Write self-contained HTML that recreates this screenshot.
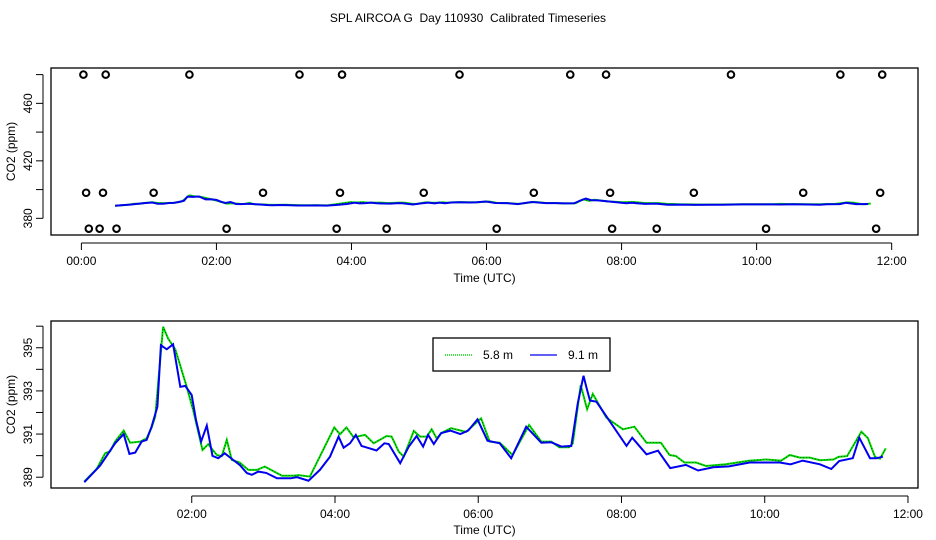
<!DOCTYPE html>
<html><head><meta charset="utf-8"><style>
html,body{margin:0;padding:0;background:#fff;}
svg{display:block;font-family:"Liberation Sans",sans-serif;}
</style></head><body>
<svg id="chart" width="936" height="540" viewBox="0 0 936 540" xmlns="http://www.w3.org/2000/svg">
<rect width="936" height="540" fill="#fff"/>
<text x="468" y="22" text-anchor="middle" font-size="12" xml:space="preserve" style="white-space:pre">SPL AIRCOA G  Day 110930  Calibrated Timeseries</text>
<g id="top"></g>
<g id="bot"></g>
</svg>
<script>
// Data (time in hours UTC, CO2 ppm)
const greenT = [0.5,0.67,0.79,0.86,0.93,1.05,1.14,1.28,1.37,1.44,1.49,1.60,1.67,1.77,1.93,2.02,2.15,2.23,2.35,2.42,2.49,2.56,2.67,2.79,2.91,3.02,3.26,3.42,3.49,3.65,3.99,4.07,4.16,4.26,4.42,4.54,4.72,4.79,4.89,4.96,5.10,5.19,5.28,5.35,5.42,5.49,5.62,5.83,6.04,6.16,6.30,6.48,6.71,6.88,7.02,7.13,7.27,7.32,7.43,7.52,7.60,7.79,8.02,8.18,8.35,8.55,8.67,8.76,8.88,9.04,9.18,9.46,9.79,10.02,10.23,10.35,10.49,10.63,10.77,10.96,11.03,11.15,11.35,11.44,11.54,11.61,11.69];
const greenV = [388.8,389.37,390.11,390.2,390.65,391.16,390.6,390.65,390.8,391.3,391.8,395.97,395.43,394.93,393.19,392.1,390.26,390.53,390.03,389.98,390.73,389.8,389.68,389.34,389.34,389.49,389.07,389.07,389.1,389.03,391.31,390.99,391.31,390.85,390.96,390.57,390.91,390.88,390.19,389.95,391.14,390.88,390.88,391.22,390.8,391.06,391.27,391.1,391.73,390.65,390.6,390.03,391.42,390.65,390.65,390.39,390.39,390.57,393.27,392.15,392.86,391.76,391.22,391.34,390.6,390.6,390.03,389.98,389.68,389.68,389.52,389.6,389.77,389.82,389.77,390.03,389.91,389.91,389.79,389.82,389.94,389.98,391.11,390.81,389.94,389.86,390.34];
const blueT = [0.5,0.72,0.93,1.05,1.13,1.21,1.30,1.37,1.44,1.52,1.57,1.65,1.74,1.84,1.91,2.0,2.06,2.13,2.21,2.29,2.37,2.46,2.58,2.67,2.77,2.84,2.93,3.04,3.19,3.38,3.47,3.63,3.79,3.93,4.05,4.12,4.21,4.29,4.37,4.47,4.58,4.69,4.75,4.91,5.03,5.14,5.23,5.30,5.38,5.48,5.61,5.75,5.86,5.99,6.13,6.30,6.46,6.67,6.88,7.02,7.16,7.30,7.39,7.47,7.52,7.56,7.65,8.07,8.15,8.35,8.51,8.68,8.90,9.07,9.28,9.5,9.79,10.21,10.36,10.53,10.77,10.93,11.04,11.23,11.32,11.47,11.56,11.65];
const blueV = [388.77,389.54,390.57,391.0,390.08,390.14,390.65,390.73,391.34,392.27,395.12,394.93,395.16,393.19,393.23,392.81,391.65,390.65,391.39,389.99,389.88,390.11,389.8,389.57,389.19,389.11,389.26,389.2,388.95,388.95,389.0,388.84,389.34,389.95,390.88,390.37,390.57,390.96,390.45,390.35,390.24,390.57,390.54,389.65,390.42,390.91,390.42,390.96,390.54,391.04,391.16,391.0,391.16,391.68,390.69,390.57,389.88,391.34,390.6,390.62,390.42,390.45,392.43,393.7,393.04,392.55,392.5,390.45,390.83,390.06,390.23,389.42,389.57,389.31,389.46,389.5,389.68,389.68,389.6,389.77,389.6,389.38,389.75,389.88,390.83,389.88,389.88,389.95];
// Flag circles in top panel
const flagHighT = [0.03,0.36,1.6,3.23,3.86,5.6,7.24,7.77,9.62,11.24,11.86];
const flagMidT = [0.07,0.32,1.07,2.69,3.83,5.07,6.70,7.83,9.07,10.69,11.83];
const flagLowT = [0.11,0.27,0.52,2.15,3.78,4.52,6.15,7.86,8.52,10.14,11.77];
const flagValues = [480,397.8,372.8];
const xTickHours = [0,2,4,6,8,10,12];
const xTickLabels = ["00:00","02:00","04:00","06:00","08:00","10:00","12:00"];
const topYTicks = [380,400,420,440,460,480];
const topYLabels = [380,420,460];
const botYTicks = [389,390,391,392,393,394,395,396];
const botYLabels = [389,391,393,395];

const NS="http://www.w3.org/2000/svg";
function mk(parent,tag,attrs,name,text){
  const e=document.createElementNS(NS,tag);
  for(const k in attrs) e.setAttribute(k,attrs[k]);
  
  
  if(text!==undefined) e.textContent=text;
  parent.appendChild(e); return e;
}
function panel(g,box,tmin,tmax,vmin,vmax,yTicks,yLabels,xTicks,xLabels,lblY,ttlY,topPanel){
  const X=t=>box.l+(t-tmin)/(tmax-tmin)*(box.r-box.l);
  const Y=v=>box.b-(v-vmin)/(vmax-vmin)*(box.b-box.t);
  mk(g,'rect',{x:box.l,y:box.t,width:box.r-box.l,height:box.b-box.t,fill:'none',stroke:'#000','stroke-width':1.3},'plot-frame');
  const xs=xTicks.filter(t=>X(t)>=box.l-1&&X(t)<=box.r+1);
  mk(g,'line',{x1:X(xs[0]),x2:X(xs[xs.length-1]),y1:box.b+8,y2:box.b+8,stroke:'#000'},'x-axis-line');
  xTicks.forEach((t,i)=>{
    if(X(t)<box.l-1||X(t)>box.r+1) return;
    mk(g,'line',{x1:X(t),x2:X(t),y1:box.b+8,y2:box.b+15,stroke:'#000'},'x-tick');
    mk(g,'text',{x:X(t),y:lblY,'text-anchor':'middle','font-size':12},'x-tick-label',xLabels[i]);
  });
  mk(g,'text',{x:(box.l+box.r)/2,y:ttlY,'text-anchor':'middle','font-size':12},'x-axis-title','Time (UTC)');
  mk(g,'line',{x1:box.l-8,x2:box.l-8,y1:Y(yTicks[0]),y2:Y(yTicks[yTicks.length-1]),stroke:'#000'},'y-axis-line');
  yTicks.forEach(v=>mk(g,'line',{x1:box.l-15,x2:box.l-8,y1:Y(v),y2:Y(v),stroke:'#000'},'y-tick'));
  yLabels.forEach(v=>mk(g,'text',{x:0,y:0,'text-anchor':'middle','font-size':12,transform:`translate(32,${Y(v)}) rotate(-90)`},'y-tick-label',String(v)));
  mk(g,'text',{x:0,y:0,'text-anchor':'middle','font-size':12,transform:`translate(15,${(box.t+box.b)/2}) rotate(-90)`},'y-axis-title','CO2 (ppm)');
  const pts=(T,V)=>T.map((t,i)=>X(t).toFixed(1)+','+Y(V[i]).toFixed(1)).join(' ');
  mk(g,'polyline',{points:pts(greenT,greenV),fill:'none',stroke:'#00dd00','stroke-width':2},'series-5-8m-line');
  mk(g,'polyline',{points:pts(greenT,greenV),fill:'none',stroke:'#000','stroke-width':0.6,'stroke-dasharray':'1,2'},'series-5-8m-dots');
  mk(g,'polyline',{points:pts(blueT,blueV),fill:'none',stroke:'#0000ee','stroke-width':2},'series-9-1m-line');
  if(topPanel){
    [flagHighT,flagMidT,flagLowT].forEach((arr,k)=>arr.forEach(t=>
      mk(g,'circle',{cx:X(t),cy:Y(flagValues[k]),r:3.3,fill:'none',stroke:'#000','stroke-width':2},'flag-marker')));
  }
}
panel(document.getElementById('top'),{l:51,r:918,t:68,b:235},-0.45,12.39,368.4,484.6,topYTicks,topYLabels,xTickHours,xTickLabels,265,282,true);
panel(document.getElementById('bot'),{l:51,r:918,t:321,b:488},0.035,12.14,388.5,396.24,botYTicks,botYLabels,xTickHours,xTickLabels,518,534,false);
const bg=document.getElementById('bot');
const lg=mk(bg,'g',{},'legend');
mk(lg,'rect',{x:433,y:338,width:177,height:33,fill:'#fff',stroke:'#000','stroke-width':1.3},'legend-box');
mk(lg,'line',{x1:445,x2:472,y1:355,y2:355,stroke:'#00dd00','stroke-width':1.5,'stroke-dasharray':'1,1'},'legend-5-8m-swatch');
mk(lg,'text',{x:483,y:359,'font-size':12},'legend-5-8m-label','5.8 m');
mk(lg,'line',{x1:530,x2:557,y1:355,y2:355,stroke:'#0000ee','stroke-width':1.3},'legend-9-1m-swatch');
mk(lg,'text',{x:568,y:359,'font-size':12},'legend-9-1m-label','9.1 m');
</script>
</body></html>
